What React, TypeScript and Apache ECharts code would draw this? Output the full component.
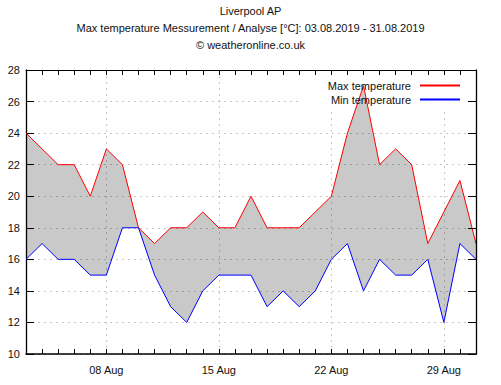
import React, { useEffect, useRef } from "react";
import * as echarts from "echarts";

const categories = [
  "03 Aug", "04 Aug", "05 Aug", "06 Aug", "07 Aug", "08 Aug", "09 Aug", "10 Aug",
  "11 Aug", "12 Aug", "13 Aug", "14 Aug", "15 Aug", "16 Aug", "17 Aug", "18 Aug",
  "19 Aug", "20 Aug", "21 Aug", "22 Aug", "23 Aug", "24 Aug", "25 Aug", "26 Aug",
  "27 Aug", "28 Aug", "29 Aug", "30 Aug", "31 Aug",
];
const maxTemp = [24, 23, 22, 22, 20, 23, 22, 18, 17, 18, 18, 19, 18, 18, 20, 18, 18, 18, 19, 20, 24, 27, 22, 23, 22, 17, 19, 21, 17];
const minTemp = [16, 17, 16, 16, 15, 15, 18, 18, 15, 13, 12, 14, 15, 15, 15, 13, 14, 13, 14, 16, 17, 14, 16, 15, 15, 16, 12, 17, 16];
const labeledIndices = [5, 12, 19, 26];
const Y_MIN = 10;
const Y_MAX = 28;
const Y_STEP = 2;

const titleLines = [
  "Liverpool AP",
  "Max temperature Messurement / Analyse [°C]: 03.08.2019 - 31.08.2019",
  "© weatheronline.co.uk",
];

const MAX_COLOR = "#ff0000";
const MIN_COLOR = "#0000ff";
const FILL = "#c9c9c9";

const W = 501;
const H = 385;
const G_LEFT = 26;
const G_RIGHT = 476;
const G_TOP = 70;
const G_BOTTOM = 354;
// legend box area (hides grid lines)
const L_LEFT = 298;
const L_BOTTOM = 111;

const FONT = "'Liberation Sans', Arial, sans-serif";
const GRID_LINE = {
  show: true,
  lineStyle: { color: "#000", opacity: 0.22, width: 1, type: [2, 4] as any },
};

export default function App() {
  const ref = useRef<HTMLDivElement>(null);
  useEffect(() => {
    if (!ref.current) return;
    const chart = echarts.init(ref.current, undefined, { renderer: "svg" });
    const diff = maxTemp.map((v, i) => v - minTemp[i]);
    const n = categories.length - 1;
    const pxPerIdx = (G_RIGHT - G_LEFT) / n;
    const pxPerUnit = (G_BOTTOM - G_TOP) / (Y_MAX - Y_MIN);
    const x2min = (L_LEFT - G_LEFT) / pxPerIdx;
    const y2min = Y_MAX - (L_BOTTOM - G_TOP) / pxPerUnit;
    const isLabeled = (i: number) => labeledIndices.indexOf(i) >= 0;

    const option: any = {
      animation: false,
      backgroundColor: "#fff",
      textStyle: { fontFamily: FONT },
      title: titleLines.map((t, i) => ({
        text: t,
        left: "center",
        top: 5 + i * 17,
        padding: 0,
        textStyle: { fontSize: 11, fontWeight: "normal", color: "#111", fontFamily: FONT },
      })),
      legend: {
        data: ["Max temperature", "Min temperature"],
        orient: "vertical",
        align: "right",
        right: W - 461,
        top: 80,
        padding: 0,
        itemGap: 3,
        itemWidth: 40,
        itemHeight: 13,
        itemStyle: { opacity: 0 },
        z: 6,
        textStyle: { fontSize: 11, color: "#111", fontFamily: FONT, padding: [0, 4, 0, 0] },
      },
      graphic: [
        {
          type: "rect",
          z: 3,
          shape: { x: L_LEFT, y: G_TOP + 1, width: G_RIGHT - L_LEFT - 1, height: L_BOTTOM - G_TOP - 1 },
          style: { fill: "#fff" },
          silent: true,
        },
      ],
      grid: [
        { left: G_LEFT, right: W - G_RIGHT, top: G_TOP, bottom: H - G_BOTTOM, containLabel: false },
        { left: L_LEFT, right: W - G_RIGHT, top: G_TOP, height: L_BOTTOM - G_TOP, containLabel: false },
      ],
      xAxis: [
        {
          type: "category",
          gridIndex: 0,
          data: categories,
          boundaryGap: false,
          position: "bottom",
          z: 2,
          axisLine: { show: true, onZero: false, lineStyle: { color: "#000", width: 1.5 } },
          axisTick: { show: true, inside: true, length: 5, interval: 0, lineStyle: { color: "#000" } },
          axisLabel: {
            interval: (i: number) => isLabeled(i),
            fontSize: 11,
            color: "#111",
            margin: 10,
          },
          splitLine: { ...GRID_LINE, interval: (i: number) => isLabeled(i) },
        },
        {
          type: "category",
          gridIndex: 0,
          data: categories,
          boundaryGap: false,
          position: "top",
          z: 7,
          axisLine: { show: true, onZero: false, lineStyle: { color: "#000", width: 1 } },
          axisTick: { show: true, inside: true, length: 5, interval: 0, lineStyle: { color: "#000" } },
          axisLabel: { show: false },
          splitLine: { show: false },
        },
        {
          type: "value",
          gridIndex: 1,
          min: x2min,
          max: n,
          show: false,
        },
      ],
      yAxis: [
        {
          type: "value",
          gridIndex: 0,
          min: Y_MIN,
          max: Y_MAX,
          interval: Y_STEP,
          position: "left",
          z: 2,
          axisLine: { show: true, onZero: false, lineStyle: { color: "#000", width: 1.3 } },
          axisTick: { show: true, inside: true, length: 8, lineStyle: { color: "#000" } },
          axisLabel: { fontSize: 11, color: "#111", margin: 6 },
          splitLine: GRID_LINE,
        },
        {
          type: "value",
          gridIndex: 0,
          min: Y_MIN,
          max: Y_MAX,
          interval: Y_STEP,
          position: "right",
          z: 7,
          axisLine: { show: true, onZero: false, lineStyle: { color: "#000", width: 1.3 } },
          axisTick: { show: true, inside: true, length: 8, lineStyle: { color: "#000" } },
          axisLabel: { show: false },
          splitLine: { show: false },
        },
        {
          type: "value",
          gridIndex: 1,
          min: y2min,
          max: Y_MAX,
          show: false,
        },
      ],
      series: [
        {
          name: "base",
          type: "line",
          stack: "band",
          data: minTemp,
          symbol: "none",
          silent: true,
          z: 1,
          lineStyle: { opacity: 0 },
          areaStyle: { opacity: 0 },
        },
        {
          name: "band",
          type: "line",
          stack: "band",
          data: diff,
          symbol: "none",
          silent: true,
          z: 1,
          lineStyle: { opacity: 0 },
          areaStyle: { color: FILL, opacity: 1 },
        },
        {
          // re-draws the band inside the legend box (min temps never reach it)
          name: "bandTop",
          type: "line",
          xAxisIndex: 2,
          yAxisIndex: 2,
          data: maxTemp.map((v, i) => [i, v]),
          symbol: "none",
          silent: true,
          clip: true,
          z: 4,
          lineStyle: { opacity: 0 },
          areaStyle: { color: FILL, opacity: 1, origin: Y_MIN },
        },
        {
          name: "Max temperature",
          type: "line",
          data: maxTemp,
          symbol: "none",
          z: 5,
          color: MAX_COLOR,
          itemStyle: { color: MAX_COLOR },
          lineStyle: { color: MAX_COLOR, width: 1 },
        },
        {
          name: "Min temperature",
          type: "line",
          data: minTemp,
          symbol: "none",
          z: 5,
          color: MIN_COLOR,
          itemStyle: { color: MIN_COLOR },
          lineStyle: { color: MIN_COLOR, width: 1 },
        },
      ],
    };
    chart.setOption(option);
    return () => chart.dispose();
  }, []);
  return (
    <div
      ref={ref}
      style={{ position: "fixed", left: 0, top: 0, width: W, height: H, background: "#fff" }}
    />
  );
}
